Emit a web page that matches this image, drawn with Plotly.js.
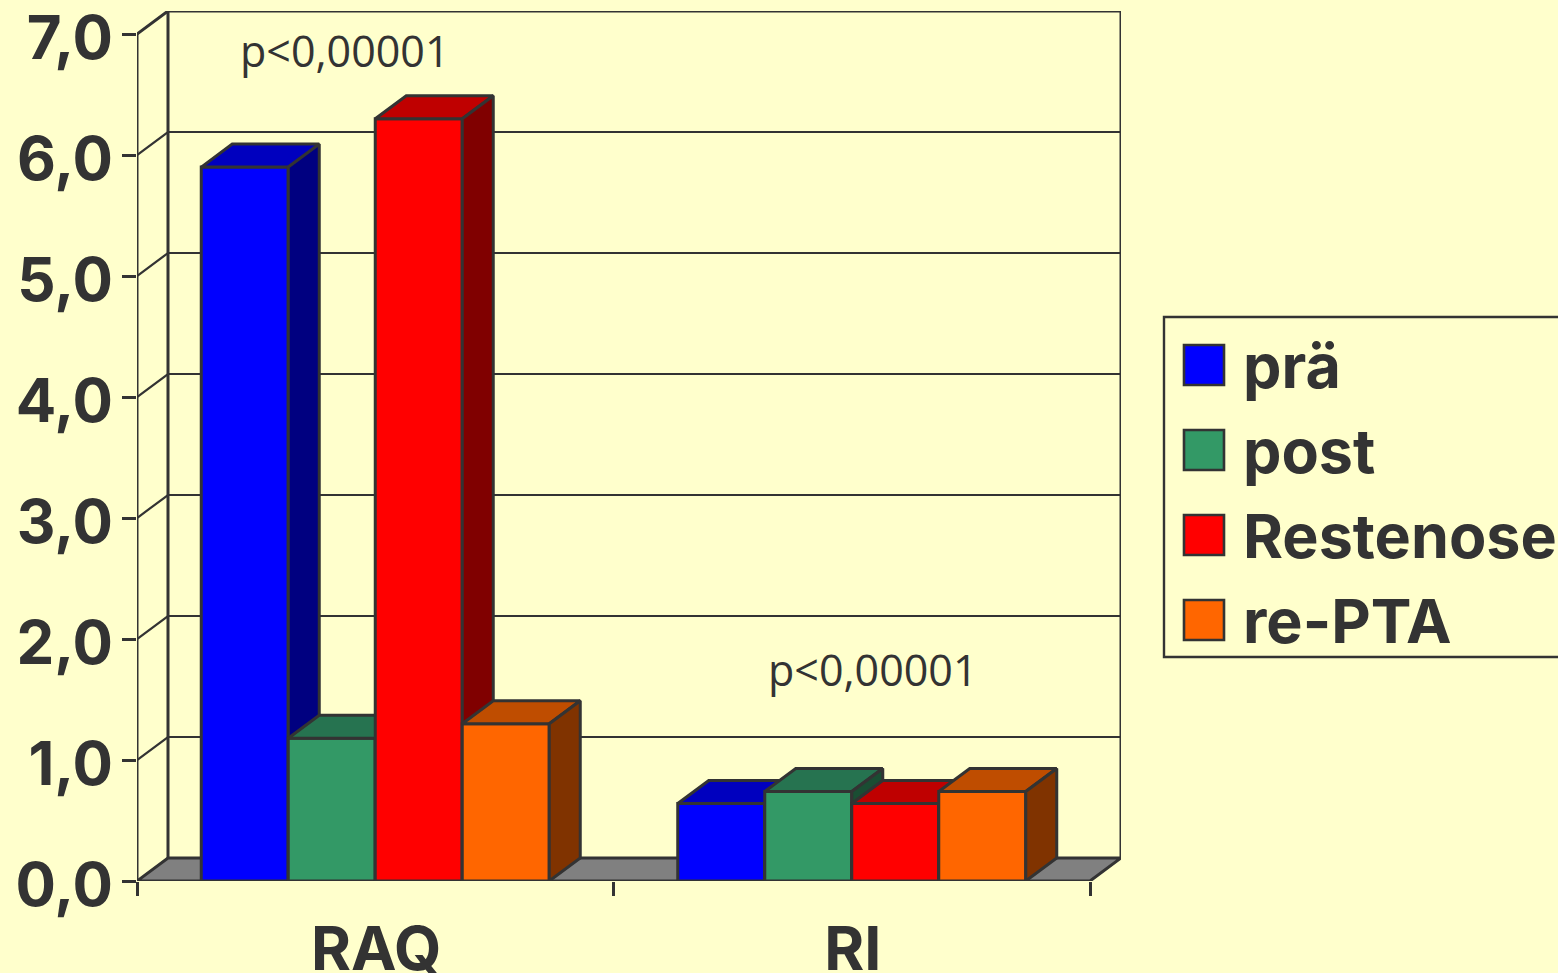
<!DOCTYPE html>
<html><head><meta charset="utf-8">
<script src="https://cdn.plot.ly/plotly-3.0.1.min.js"></script>
<style>html,body{margin:0;padding:0;background:#FFFFCC;overflow:hidden}</style>
</head><body><div id="chart" style="width:1558px;height:973px"></div>
<script>
const categories = ["RAQ", "RI"];
const seriesNames = ["prä", "post", "Restenose", "re-PTA"];
const pre = [5.90, 0.64];
const post = [1.18, 0.74];
const restenose = [6.30, 0.64];
const rePTA = [1.30, 0.74];
const yTicks = [0, 1, 2, 3, 4, 5, 6, 7];
const yTickLabels = ["0,0", "1,0", "2,0", "3,0", "4,0", "5,0", "6,0", "7,0"];
const frontColors = ["#0000FF", "#339966", "#FF0000", "#FF6600"];
const topColors = ["#0000BF", "#267350", "#BF0000", "#BF4D00"];
const sideColors = ["#000080", "#1A4D33", "#800000", "#803300"];
const pValueLabel = "p<0,00001";

const seriesValues = [pre, post, restenose, rePTA];
const INK = "#333333", BG = "#FFFFCC";
const L = 137, T = 11, R = 1121, B = 881;       // plot frame in pixels
const pxPerX = 476.5, pxPerY = 121;
const dx = 31 / pxPerX, dy = 23 / pxPerY;       // 3-D depth in axis units
const barW = 87 / pxPerX;
const xMax = (R - L) / pxPerX, yMax = (B - T) / pxPerY;
const centers = [0.5, 1.5];
const px = x => (x - L) / (R - L), py = y => (B - y) / (B - T);
const LW = 3;

const traces = [];
const poly = (xs, ys, fill, axisN) => ({
  type: "scatter", mode: "lines", x: xs, y: ys, fill: "toself", fillcolor: fill,
  line: {color: INK, width: LW, shape: "linear"}, hoverinfo: "skip", showlegend: false,
  cliponaxis: false, xaxis: axisN ? "x" + axisN : "x", yaxis: axisN ? "y" + axisN : "y"
});

// back wall, floor and gridlines on the base axes
const gx = [], gy = [];
yTicks.slice(1, -1).forEach(v => { gx.push(0, dx, xMax, null); gy.push(v, v + dy, v + dy, null); });
traces.push({type: "scatter", mode: "lines", x: gx, y: gy, line: {color: INK, width: 2.2}, hoverinfo: "skip",
  showlegend: false, cliponaxis: false});
traces.push(poly([0, dx, 2 + dx, 2, 0], [0, dy, dy, 0, 0], "#808080"));
traces.push({type: "scatter", mode: "lines", cliponaxis: false, hoverinfo: "skip", showlegend: false,
  x: [0, 0, null, 0, dx, xMax, xMax, null, dx, dx], y: [-14 / pxPerY, 7, null, 7, yMax, yMax, dy, null, dy, yMax],
  line: {color: INK, width: LW}});

// each series sits on its own overlaying axes so it stacks over the one before
seriesValues.forEach((vals, s) => {
  const n = s + 2;
  const xc = centers.map(c => c + (s - 1.5) * barW);
  traces.push({type: "bar", x: xc, y: vals, width: barW, name: seriesNames[s],
    marker: {color: frontColors[s], line: {color: INK, width: LW}}, cliponaxis: false,
    showlegend: false, hoverinfo: "y", xaxis: "x" + n, yaxis: "y" + n});
  vals.forEach((v, i) => {
    const x0 = xc[i] - barW / 2, x1 = xc[i] + barW / 2;
    traces.push(poly([x0, x0 + dx, x1 + dx, x1, x0], [v, v + dy, v + dy, v, v], topColors[s], n));
    traces.push(poly([x1, x1 + dx, x1 + dx, x1, x1], [0, dy, v + dy, v, 0], sideColors[s], n));
  });
});

const boldFamily = "Inter, 'Liberation Sans', sans-serif";
const layout = {
  width: 1558, height: 973, autosize: false,
  paper_bgcolor: BG, plot_bgcolor: BG, bargap: 0, showlegend: false, hovermode: "closest",
  margin: {l: L, t: T, r: 1558 - R, b: 973 - B, pad: 0},
  xaxis: {range: [0, xMax], tickmode: "array", tickvals: centers, ticktext: categories, ticks: "",
    showgrid: false, zeroline: false, showline: false, ticklabeloverflow: "allow", ticklabelshift: 1,
    tickfont: {family: boldFamily, size: 61, color: INK, weight: 700}, ticklabelstandoff: 27,
    minor: {tickmode: "array", tickvals: [0, 1, 2], ticks: "outside", ticklen: 14, tickwidth: LW, tickcolor: INK, showgrid: false}},
  yaxis: {range: [0, yMax], tickmode: "array", tickvals: yTicks, ticktext: yTickLabels, ticks: "outside",
    ticklen: 14, tickwidth: LW, tickcolor: INK, showgrid: false, zeroline: false, showline: false,
    ticklabeloverflow: "allow", ticklabelshift: 4,
    tickfont: {family: boldFamily, size: 60, color: INK, weight: 700}, ticklabelstandoff: -3},
  annotations: [], shapes: []
};
seriesValues.forEach((_, s) => {
  const n = s + 2;
  layout["xaxis" + n] = {range: [0, xMax], overlaying: "x", visible: false, fixedrange: true, anchor: "y" + n};
  layout["yaxis" + n] = {range: [0, yMax], overlaying: "y", visible: false, fixedrange: true, anchor: "x" + n};
});

// p-value notes, placed in data space above each group
const noteFont = {family: "'Open Sans', sans-serif", size: 43, color: INK};
[[0.436, 6.86], [1.544, 1.75]].forEach(([x, y]) => {
  layout.annotations.push({xref: "x", yref: "y", x: x, y: y, text: pValueLabel, showarrow: false,
    font: noteFont, xanchor: "center", yanchor: "middle"});
});

// legend
layout.shapes.push({type: "rect", xref: "paper", yref: "paper", x0: px(1164), x1: px(1620), y0: py(657), y1: py(317),
  line: {color: INK, width: 2.4}, fillcolor: BG});
const legendFont = {family: boldFamily, size: 61, color: INK, weight: 700};
seriesNames.forEach((name, s) => {
  const top = 345 + s * 85;
  layout.shapes.push({type: "rect", xref: "paper", yref: "paper", x0: px(1184), x1: px(1224), y0: py(top + 40), y1: py(top),
    line: {color: INK, width: 2.6}, fillcolor: frontColors[s]});
  layout.annotations.push({xref: "paper", yref: "paper", x: px(1243), y: py(top + 21), text: name, showarrow: false,
    font: legendFont, xanchor: "left", yanchor: "middle", xshift: -2});
});

Plotly.newPlot("chart", traces, layout, {displayModeBar: false, staticPlot: true});
</script></body></html>
